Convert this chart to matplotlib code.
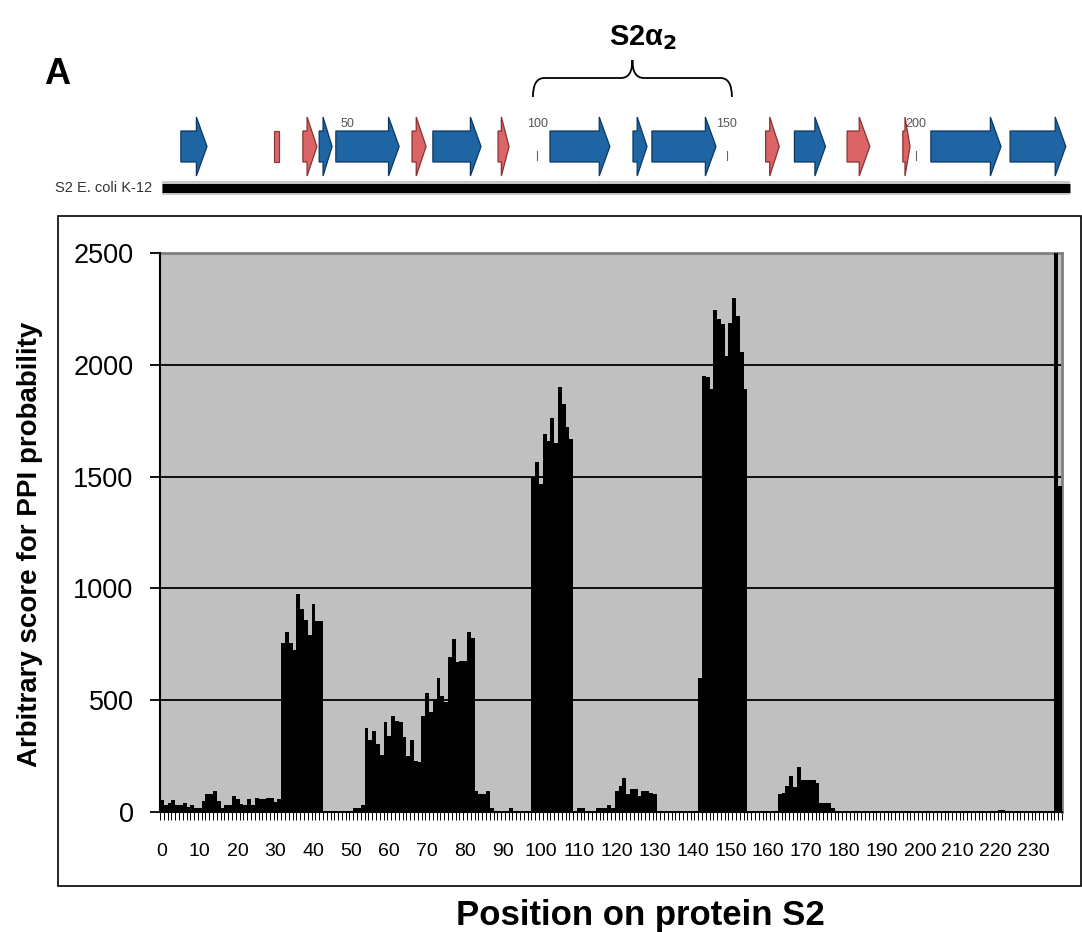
import numpy as np
import matplotlib
matplotlib.use("Agg")
from matplotlib import pyplot as plt
from matplotlib import font_manager
from matplotlib.patches import Polygon, Rectangle, PathPatch
from matplotlib.path import Path

# PPI score for every position of protein S2 (0-based)
scores = [
    52, 30, 40, 55, 33, 33, 40, 22, 33, 18,
    18, 50, 82, 82, 95, 50, 18, 33, 33, 73,
    58, 37, 33, 58, 33, 63, 58, 58, 64, 64,
    43, 60, 755, 805, 755, 725, 975, 910, 860, 790,
    930, 855, 855, 0, 0, 0, 0, 0, 0, 0,
    0, 18, 18, 30, 376, 323, 364, 306, 256, 402,
    338, 431, 408, 402, 335, 249, 323, 227, 222, 428,
    532, 446, 505, 599, 520, 492, 695, 774, 669, 677,
    676, 806, 777, 92, 82, 80, 95, 18, 0, 0,
    0, 0, 18, 0, 0, 0, 0, 0, 1500, 1565,
    1465, 1690, 1660, 1760, 1650, 1900, 1825, 1720, 1670, 0,
    16, 16, 0, 0, 0, 16, 16, 16, 31, 16,
    96, 116, 151, 80, 103, 103, 72, 92, 92, 85,
    81, 0, 0, 0, 0, 0, 0, 0, 0, 0,
    0, 0, 598, 1950, 1945, 1892, 2245, 2203, 2181, 2041,
    2186, 2299, 2218, 2057, 1892, 0, 0, 0, 0, 0,
    0, 0, 0, 80, 84, 116, 161, 110, 201, 143,
    143, 143, 143, 128, 39, 39, 39, 16, 0, 0,
    0, 0, 0, 0, 0, 0, 0, 0, 0, 0,
    0, 0, 0, 0, 0, 0, 0, 0, 0, 0,
    0, 0, 0, 0, 0, 0, 0, 0, 0, 0,
    0, 0, 0, 0, 0, 0, 0, 0, 0, 0,
    0, 10, 10, 0, 0, 0, 0, 0, 0, 0,
    0, 0, 0, 0, 0, 0, 2500, 1460,
]
x_labels = list(range(0, 240, 10))
y_ticks = [0, 500, 1000, 1500, 2000, 2500]

# secondary structure track (0-based positions): b = strand, r = helix, bar = short helix
ss_start = [5.0, 29.7, 37.2, 41.5, 45.9, 66.0, 71.5, 88.7, 102.4, 124.3,
            129.3, 159.3, 166.9, 180.8, 195.5, 202.9, 223.8]
ss_end = [11.9, 30.8, 40.9, 44.9, 62.6, 69.7, 84.2, 91.6, 118.2, 128.0,
          146.2, 162.9, 175.1, 186.8, 197.4, 221.4, 238.5]
ss_kind = ['b', 'bar', 'r', 'b', 'b', 'r', 'b', 'r', 'b', 'b',
           'b', 'r', 'b', 'r', 'r', 'b', 'b']
ruler = [50, 100, 150, 200]
brace = [97.9, 150.4]

installed = {f.name for f in font_manager.fontManager.ttflist}
if 'Liberation Sans Narrow' in installed:
    tick_font, xt_size, yt_size, small_size = 'Liberation Sans Narrow', 17, 24, 13
else:
    tick_font, xt_size, yt_size, small_size = 'Liberation Sans', 14, 19.5, 10.5
plt.rcParams['font.family'] = ['Liberation Sans', 'DejaVu Sans']

W, H = 1082, 932


def fx(px):
    return px / W


def fy(py):
    return 1 - py / H


fig = plt.figure(figsize=(W / 100, H / 100), dpi=100)

# main bar chart
ax = fig.add_axes([fx(160), fy(812), 902 / W, 559 / H])
ax.set_facecolor('#c0c0c0')
pos = np.arange(len(scores))
ax.bar(pos, scores, width=1.02, color='black', linewidth=0, zorder=3)
for v in y_ticks[1:-1]:
    ax.axhline(v, color='black', lw=1.3, zorder=1)
ax.set_xlim(-0.5, len(scores) - 0.5)
ax.set_ylim(0, 2500)
ax.set_yticks(y_ticks)
ax.set_xticks(x_labels)
ax.set_xticks(np.arange(-0.5, len(scores), 1), minor=True)
ax.tick_params(axis='y', direction='out', length=7, width=1.3, pad=12,
               labelsize=yt_size, labelfontfamily=tick_font)
ax.tick_params(axis='x', which='major', length=0, pad=22,
               labelsize=xt_size, labelfontfamily=tick_font)
ax.tick_params(axis='x', which='minor', direction='out', length=6, width=0.7)
for s in ['left', 'bottom']:
    ax.spines[s].set_color('black')
    ax.spines[s].set_linewidth(1.5)
    ax.spines[s].set_zorder(4)
for s in ['top', 'right']:
    ax.spines[s].set_color('#808080')
    ax.spines[s].set_linewidth(2)

fig.text(fx(30), fy(544), 'Arbitrary score for PPI probability', rotation=90,
         ha='center', va='center', fontsize=20, fontweight='bold')
fig.text(fx(640), fy(915), 'Position on protein S2', ha='center', va='center',
         fontsize=25, fontweight='bold')
fig.text(fx(44), fy(75), 'A', ha='left', va='center', fontsize=26, fontweight='bold')

# frame around chart area
fig.add_artist(Rectangle((fx(58), fy(886)), (1081 - 58) / W, (886 - 216) / H,
                         transform=fig.transFigure, fill=False,
                         edgecolor='black', lw=1.2))

# top track, y in pixels
axt = fig.add_axes([fx(160), fy(200), 902 / W, 180 / H])
axt.set_xlim(ax.get_xlim())
axt.set_ylim(200, 20)
axt.axis('off')

axt.plot([0, 239.6], [188, 188], color='#c8c8c8', lw=10, solid_capstyle='butt',
         clip_on=False, zorder=1)
axt.plot([0, 239.6], [187.5, 187.5], color='black', lw=6.5, solid_capstyle='butt',
         clip_on=False, zorder=2)
axt.text(-2.6, 188, 'S2 E. coli K-12', ha='right', va='center', fontsize=small_size,
         family=[tick_font, 'DejaVu Sans'], color='#333333', clip_on=False)

for m in ruler:
    axt.plot([m - 1, m - 1], [151, 160], color='#666666', lw=0.8, zorder=1)
    axt.text(m - 1, 124, str(m), ha='center', va='center', fontsize=9,
             family=[tick_font, 'DejaVu Sans'], color='#555555', zorder=4)

for s, e, k in zip(ss_start, ss_end, ss_kind):
    if k == 'bar':
        patch = Rectangle((s, 131), e - s, 31, facecolor='#da6466',
                          edgecolor='#8a3030', lw=0.8)
    else:
        head = min(2.8, 0.7 * (e - s))
        verts = [(s, 131), (e - head, 131), (e - head, 117), (e, 146.5),
                 (e - head, 176), (e - head, 162), (s, 162)]
        face = '#1f65a3' if k == 'b' else '#da6466'
        edge = '#0b3763' if k == 'b' else '#8a3030'
        patch = Polygon(verts, closed=True, facecolor=face, edgecolor=edge, lw=0.9)
    patch.set_clip_on(False)
    patch.set_zorder(3)
    axt.add_patch(patch)

# brace over S2 alpha2
x0, x1 = brace
xm = (x0 + x1) / 2
verts = [(x0, 97), (x0, 78), (x0 + 3, 78), (xm - 3, 78), (xm, 78), (xm, 60),
         (xm, 78), (xm + 3, 78), (x1 - 3, 78), (x1, 78), (x1, 97)]
codes = [Path.MOVETO, Path.CURVE3, Path.CURVE3, Path.LINETO, Path.CURVE3, Path.CURVE3,
         Path.CURVE3, Path.CURVE3, Path.LINETO, Path.CURVE3, Path.CURVE3]
axt.add_patch(PathPatch(Path(verts, codes), fill=False, edgecolor='black', lw=1.3,
                        clip_on=False))
axt.text(126.9, 38, r'S2α$_\mathbf{2}$', ha='center', va='center', fontsize=21,
         fontweight='bold', clip_on=False)

fig.savefig('out.png', dpi=100)
